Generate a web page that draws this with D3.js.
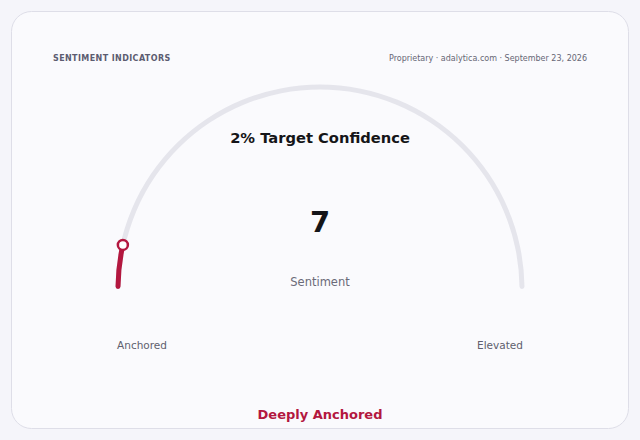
<!DOCTYPE html>
<html>
<head>
<meta charset="utf-8">
<script src="https://cdn.jsdelivr.net/npm/d3@7"></script>
<style>
  html, body { margin: 0; padding: 0; background: #f5f5fa; }
  svg { display: block; font-family: "DejaVu Sans", sans-serif; }
</style>
</head>
<body>
<svg id="chart" width="640" height="440"></svg>
<script>
const gaugeDomain = [0, 100];
const gaugeValue = [7];
const valueLabel = ["Sentiment"];
const endLabels = ["Anchored", "Elevated"];
const titleText = ["2% Target Confidence"];
const statusText = ["Deeply Anchored"];
const headerLeft = ["SENTIMENT INDICATORS"];
const headerRight = ["Proprietary · adalytica.com · September 23, 2026"];

const svg = d3.select("#chart");
const accent = "#b3173f";

svg.append("rect")
  .attr("x", 11.5).attr("y", 11.5).attr("width", 617).attr("height", 417)
  .attr("rx", 20).attr("ry", 20)
  .attr("fill", "#fafafd").attr("stroke", "#dedee8").attr("stroke-width", 1);

svg.append("text").attr("x", 53).attr("y", 61)
  .attr("font-size", 8).attr("font-weight", "bold").attr("fill", "#5c5c70")
  .attr("letter-spacing", 0.4).text(headerLeft[0]);

svg.append("text").attr("x", 587).attr("y", 61).attr("text-anchor", "end")
  .attr("font-size", 8).attr("fill", "#666675").text(headerRight[0]);

const cx = 320, cy = 289, R = 202;
const angle = d3.scaleLinear().domain(gaugeDomain).range([-Math.PI / 2, Math.PI / 2]);
const g = svg.append("g").attr("transform", `translate(${cx},${cy})`);

const arcGen = d3.arc().innerRadius(R - 2.5).outerRadius(R + 2.5).cornerRadius(2.5);

g.append("path")
  .attr("d", arcGen({ startAngle: angle(gaugeDomain[0]), endAngle: angle(gaugeDomain[1]) }))
  .attr("fill", "#e5e5ec");

g.append("path")
  .attr("d", arcGen({ startAngle: angle(gaugeDomain[0]), endAngle: angle(gaugeValue[0]) }))
  .attr("fill", accent);

const a = angle(gaugeValue[0]);
g.append("circle")
  .attr("cx", R * Math.sin(a)).attr("cy", -R * Math.cos(a)).attr("r", 5)
  .attr("fill", "#ffffff").attr("stroke", accent).attr("stroke-width", 2.5);

svg.append("text").attr("x", cx).attr("y", 143).attr("text-anchor", "middle")
  .attr("font-size", 14.7).attr("font-weight", "bold").attr("fill", "#151518")
  .text(titleText[0]);

svg.append("text").attr("x", cx).attr("y", 232).attr("text-anchor", "middle")
  .attr("font-size", 29).attr("font-weight", "bold").attr("fill", "#151518")
  .text(d3.format("d")(gaugeValue[0]));

svg.append("text").attr("x", cx).attr("y", 286).attr("text-anchor", "middle")
  .attr("font-size", 11.5).attr("fill", "#6a6a78").text(valueLabel[0]);

svg.append("text").attr("x", cx - R + 24).attr("y", 349).attr("text-anchor", "middle")
  .attr("font-size", 10.5).attr("fill", "#5f5f6e").text(endLabels[0]);
svg.append("text").attr("x", cx + R - 22).attr("y", 349).attr("text-anchor", "middle")
  .attr("font-size", 10.5).attr("fill", "#5f5f6e").text(endLabels[1]);

svg.append("text").attr("x", cx).attr("y", 419).attr("text-anchor", "middle")
  .attr("font-size", 13).attr("font-weight", "bold").attr("fill", accent)
  .text(statusText[0]);
</script>
</body>
</html>
